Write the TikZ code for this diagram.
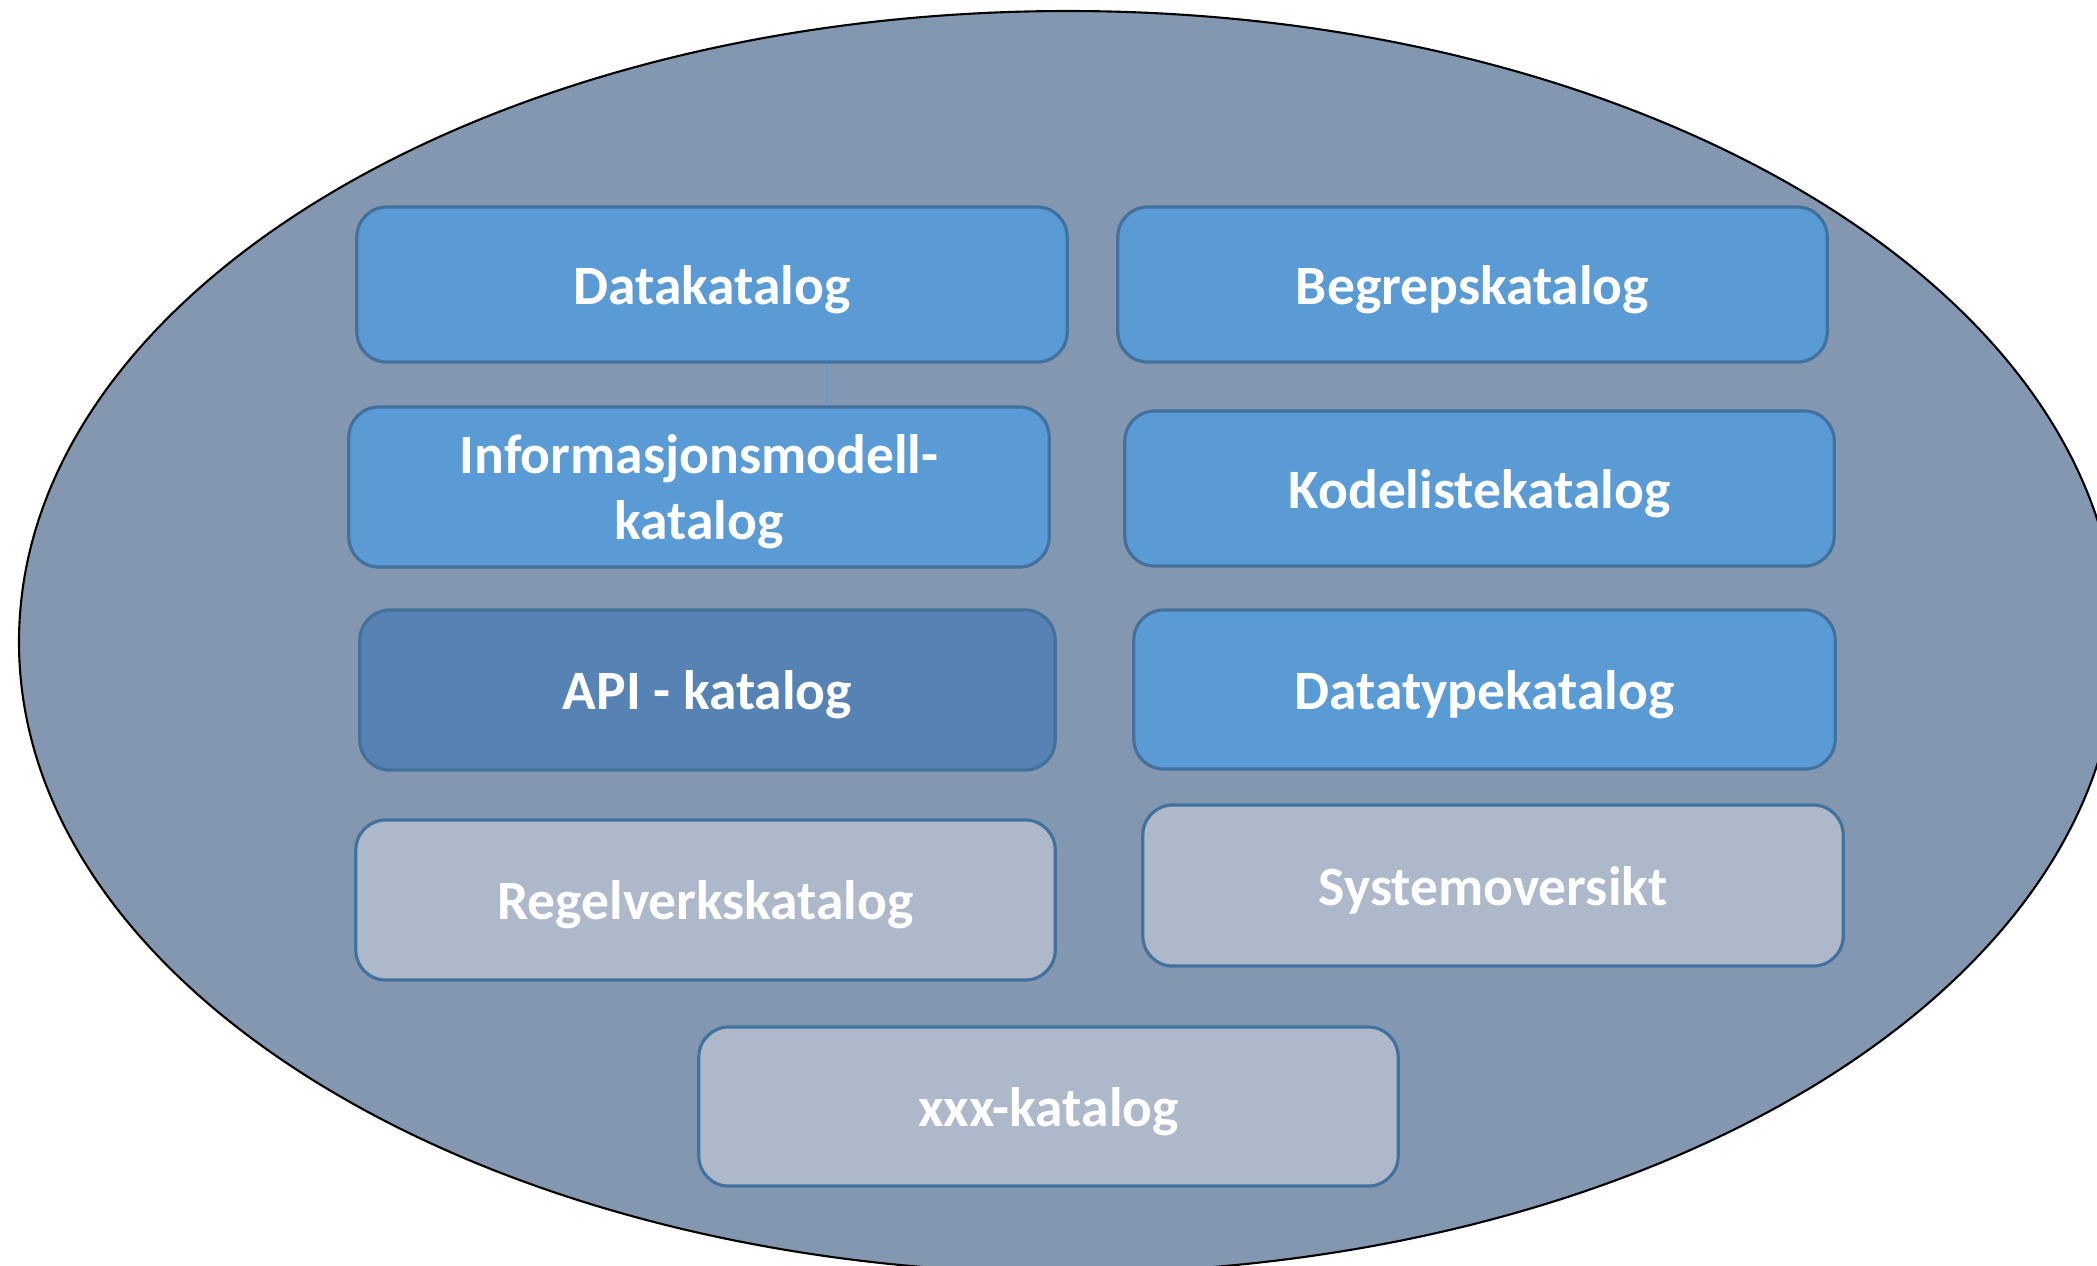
\documentclass[tikz,border=0pt]{standalone}
\usepackage{fontspec}
\setmainfont{Carlito}
\usepackage{xcolor}
\definecolor{dngra}{HTML}{8497B0}
\definecolor{dnbla}{HTML}{5B9BD5}
\definecolor{dnbladam}{HTML}{5783B4}
\definecolor{dnlys}{HTML}{ADB9CA}
\definecolor{dnkant}{HTML}{41719C}
\def\maugra{dngra}
\def\maubla{dnbla}
\def\maudam{dnbladam}
\def\maulys{dnlys}
\def\maukant{dnkant}
\usepackage{tikz}

\begin{document}
\begin{tikzpicture}[x=0.01cm,y=-0.01cm]
		\tikzstyle{katalog} = [draw=\maukant,line width=.9pt,rounded corners=.3cm,text=white,align=center,
		font=\bfseries\fontsize{15.8}{18.7}\selectfont,inner sep=0pt,text depth=0pt]
		\tikzstyle{bla} = [katalog,fill=\maubla]
		\tikzstyle{blamork} = [katalog,fill=\maudam]
		\tikzstyle{lys} = [katalog,fill=\maulys]
		\tikzstyle{forbindelse} = [line width=.4pt,\maubla]
		\useasboundingbox (0,0) rectangle (2097,1265);
		\clip (0,0) rectangle (2097,1265);
		\draw[fill=\maugra,line width=.6pt] (1068,642) ellipse [x radius=1049,y radius=631];
		% venstre kolonne
		\node[bla,minimum width=7.1cm,minimum height=1.55cm] (data) at (712,284.5) {Datakatalog};
		\node[bla,minimum width=7cm,minimum height=1.6cm] (infomod) at (699,487) {Informasjonsmodell-\\katalog};
		\node[blamork,minimum width=6.95cm,minimum height=1.6cm] (api) at (707.5,690) {API - katalog};
		\node[lys,minimum width=6.99cm,minimum height=1.6cm] (regelverk) at (705.5,900) {Regelverkskatalog};
		% hoyre kolonne
		\node[bla,minimum width=7.09cm,minimum height=1.55cm] (begrep) at (1472.5,284.5) {Begrepskatalog};
		\node[bla,minimum width=7.09cm,minimum height=1.55cm] (kodeliste) at (1479.5,488.5) {Kodelistekatalog};
		\node[bla,minimum width=7.01cm,minimum height=1.59cm] (datatype) at (1484.5,689.5) {Datatypekatalog};
		\node[lys,minimum width=7cm,minimum height=1.61cm] (system) at (1493,885.5) {Systemoversikt};
		\node[lys,minimum width=6.99cm,minimum height=1.59cm] (xxx) at (1048.5,1106.5) {xxx-katalog};
		\draw[forbindelse] ([xshift=1.15cm]data.south) -- ([xshift=1.15cm]data.south |- infomod.north);
\end{tikzpicture}
\end{document}
